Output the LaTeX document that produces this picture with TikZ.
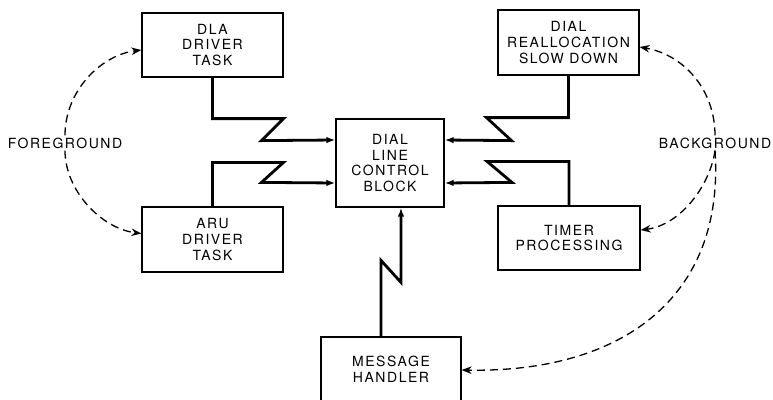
\documentclass[tikz,border=0pt]{standalone}
\usepackage{fontspec}
\newfontfamily\boxfont[LetterSpace=11]{TeX Gyre Heros}
\usepackage{tikz}
\usetikzlibrary{arrows.meta}

\begin{document}
\begin{tikzpicture}[x=1pt, y=-1pt,
  task/.style={draw, line width=1.2pt, align=center, inner sep=0pt,
    font=\boxfont\fontsize{14}{15.7}\selectfont},
  tag/.style={inner sep=2pt, font=\boxfont\fontsize{14}{15.7}\selectfont},
  link/.style={line width=2.8pt, -{Latex[length=9pt,width=6.5pt]}},
  sched/.style={line width=1.3pt, dash pattern=on 8pt off 5pt,
    -{Stealth[length=10pt,width=7.5pt]}}]

\clip (0,0) rectangle (773,399);

% boxes
\node[task, minimum width=141, minimum height=64] (dla) at (212.5,45) {DLA\\DRIVER\\TASK};
\node[task, minimum width=141, minimum height=65] (aru) at (212.5,239.5) {ARU\\DRIVER\\TASK};
\node[task, minimum width=141, minimum height=65] (drs) at (568.5,42.5) {DIAL\\REALLOCATION\\SLOW DOWN};
\node[task, minimum width=142, minimum height=64] (tmr) at (569,238) {TIMER\\PROCESSING};
\node[task, minimum width=108, minimum height=88] (dlcb) at (390,163) {DIAL\\LINE\\CONTROL\\BLOCK};
\node[task, minimum width=140, minimum height=64] (mh) at (391,369) {MESSAGE\\HANDLER};

\node[tag] (fg) at (65,143) {FOREGROUND};
\node[tag] (bg) at (715,143) {BACKGROUND};

% zigzag links into the control block
\draw[link] (dla.south) -- ++(0,41) -- ++(71,0) -- ++(-22,22) -- ([yshift=23pt]dlcb.west);
\draw[link] (aru.north) -- ++(0,-44) -- ++(71,0) -- ++(-22,20) -- ([yshift=-20pt]dlcb.west);
\draw[link] (drs.south) -- ++(0,42) -- ++(-82,0) -- ++(25,23) -- ([yshift=23pt]dlcb.east);
\draw[link] (tmr.north) -- ++(0,-44) -- ++(-82,0) -- ++(25,21) -- ([yshift=-20pt]dlcb.east);
\draw[link] ([xshift=-10pt]mh.north) -- ++(0,-76) -- ++(20,22) -- ([xshift=11pt]dlcb.south);

% dashed scheduling arcs
\draw[sched] (fg.north) .. controls +(0,-45) and +(-40,5) .. ([yshift=-5pt]dla.west);
\draw[sched] (fg.south) .. controls +(0,40) and +(-40,-5) .. ([yshift=6pt]aru.west);
\draw[sched] (bg.north) .. controls +(0,-45) and +(45,8) .. ([yshift=-4.5pt]drs.east);
\draw[sched] (bg.south) .. controls +(-5,35) and +(40,-5) .. ([yshift=8pt]tmr.east);
\draw[sched] (bg.south) .. controls +(10,148) and +(159,3) .. ([yshift=-1pt]mh.east);

\end{tikzpicture}
\end{document}
